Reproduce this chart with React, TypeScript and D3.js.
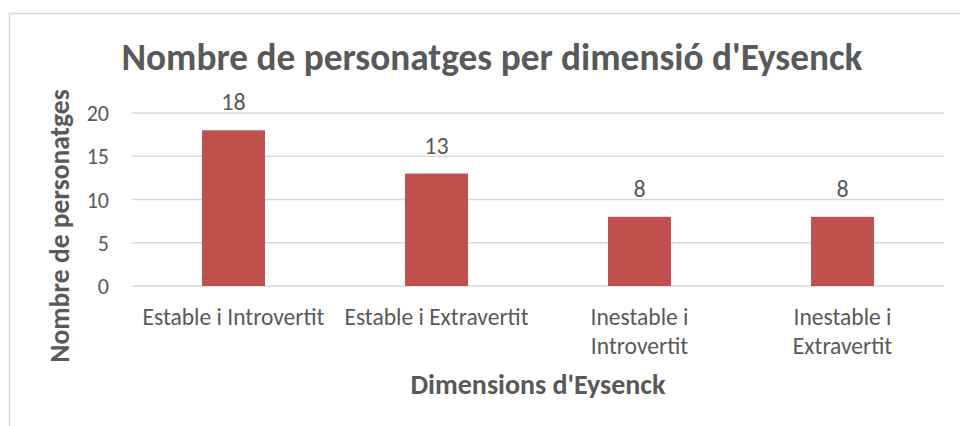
import { scaleBand, scaleLinear } from "d3";

const categories = ["Estable i Introvertit", "Estable i Extravertit", "Inestable i\nIntrovertit", "Inestable i\nExtravertit"];
const values = [18, 13, 8, 8];
const yTicks = [0, 5, 10, 15, 20];

const title = "Nombre de personatges per dimensió d'Eysenck";
const xTitle = "Dimensions d'Eysenck";
const yTitle = "Nombre de personatges";

const font = "Carlito, Calibri, Lato, sans-serif";
const textColor = "#595959";
const gridColor = "#D9D9D9";
const barColor = "#C0504D";

const App = () => {
  const width = 960;
  const height = 426;

  const xScale = scaleBand().domain(categories).range([132, 944]).padding(0);
  const yScale = scaleLinear().domain([0, 20]).range([286, 113]);

  const barWidth = xScale.bandwidth() * 0.31;

  return (
    <svg width={width} height={height} style={{ position: "absolute", left: 0, top: 0 }} fontFamily={font}>
      <rect x={0} y={0} width={width} height={height} fill="#fff" />
      <rect x={9.5} y={13.5} width={width + 10} height={height + 10} fill="none" stroke={gridColor} strokeWidth={1.5} />

      <text x={492} y={70} textAnchor="middle" fontSize={37.3} fontWeight="bold" fill={textColor}>
        {title}
      </text>

      {yTicks.map((t) => (
        <g key={`tick-${t}`}>
          <line x1={132} x2={944} y1={yScale(t)} y2={yScale(t)} stroke={gridColor} strokeWidth={1.5} />
          <text x={109} y={yScale(t) + 8} textAnchor="end" fontSize={22} fill={textColor}>
            {t}
          </text>
        </g>
      ))}

      {categories.map((c, i) => {
        const cx = xScale(c)! + xScale.bandwidth() / 2;
        const top = yScale(values[i]);
        return (
          <g key={`bar-${i}`}>
            <rect x={cx - barWidth / 2} y={top} width={barWidth} height={yScale(0) - top} fill={barColor} />
            <text x={cx} y={top - 20} textAnchor="middle" fontSize={24} fill={textColor}>
              {values[i]}
            </text>
            <text x={cx} y={325} textAnchor="middle" fontSize={23.5} fill={textColor}>
              {c.split("\n").map((line, j) => (
                <tspan key={j} x={cx} dy={j === 0 ? 0 : 29}>
                  {line}
                </tspan>
              ))}
            </text>
          </g>
        );
      })}

      <text x={538} y={394} textAnchor="middle" fontSize={28} fontWeight="bold" fill={textColor}>
        {xTitle}
      </text>
      <text
        transform={`translate(69, 226) rotate(-90)`}
        textAnchor="middle"
        fontSize={27.5}
        fontWeight="bold"
        fill={textColor}
      >
        {yTitle}
      </text>
    </svg>
  );
};

export default App;
